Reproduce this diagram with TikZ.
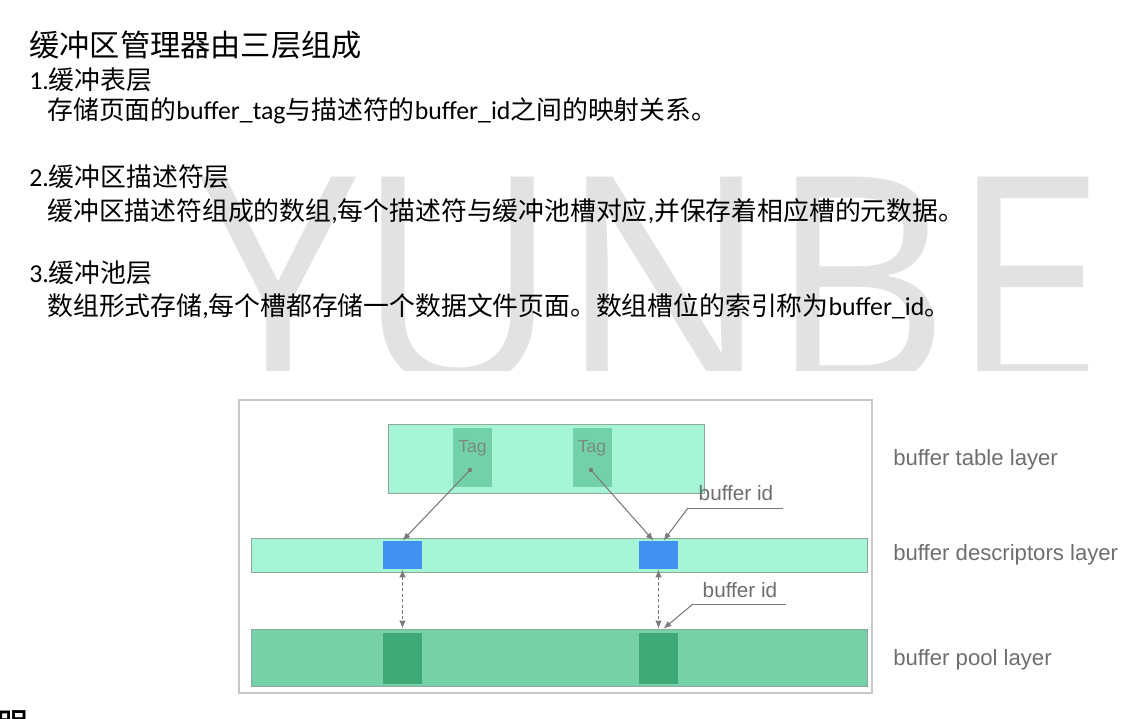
\documentclass[tikz,border=0pt]{standalone}
\usepackage{fontspec}
\setmainfont{Carlito}
\newfontfamily\cjk[AutoFakeBold=2]{Noto Sans CJK SC}
\newfontfamily\labelfont{Liberation Sans}
\newfontfamily\markfont{Open Sans}
\usetikzlibrary{calc,arrows.meta}
\newcommand{\zh}[1]{{\cjk #1}}

\definecolor{mint}{HTML}{A6F5D6}
\definecolor{tagfill}{HTML}{72D1A9}
\definecolor{descblue}{HTML}{4390F3}
\definecolor{poolfill}{HTML}{76D1A8}
\definecolor{slotfill}{HTML}{3FA877}
\definecolor{linegrey}{HTML}{8FA89C}
\definecolor{arrowgrey}{HTML}{7A7A7A}
\definecolor{textgrey}{HTML}{6E6E6E}
\definecolor{framegrey}{HTML}{C8C8C8}
\definecolor{markgrey}{HTML}{E2E2E2}

\tikzset{
	txt/.style={inner sep=0pt, anchor=west, font=\fontsize{14.7}{17}\selectfont},
	head/.style={inner sep=0pt, anchor=west, font=\fontsize{17.2}{20}\selectfont\cjk},
	layer/.style={draw=linegrey, line width=0.5pt, inner sep=0pt},
	slot/.style={inner sep=0pt, minimum width=0.78cm},
	tagbox/.style={slot, fill=tagfill, minimum height=1.18cm, text height=7.5pt, text depth=13.3pt, text=arrowgrey!80!tagfill, font=\labelfont\fontsize{10}{12}\selectfont},
	side/.style={inner sep=0pt, anchor=west, text=textgrey, font=\labelfont\fontsize{12.6}{15}\selectfont},
	idlabel/.style={inner sep=0pt, text=textgrey, font=\labelfont\fontsize{11.8}{14}\selectfont},
	link/.style={draw=arrowgrey, line width=0.6pt, -{Latex[length=4.5pt,width=3.6pt]}},
	pair/.style={draw=arrowgrey, line width=0.6pt, dash pattern=on 1.8pt off 1.4pt, {Latex[length=4.5pt,width=3.6pt]}-{Latex[length=4.5pt,width=3.6pt]}},
}

\begin{document}
\begin{tikzpicture}[x=0.02cm, y=-0.02cm]
		%%%%% START %%%%%
		\useasboundingbox (0,0) rectangle (1142,718);
		
		\begin{scope}
			\clip (0,0) rectangle (1142,370);
			\node[inner sep=0pt, anchor=base west, text=markgrey, xscale=0.95, font=\markfont\fontsize{167}{170}\selectfont] (mark) at (200,386) {YUNBE};
		\end{scope}
		
		\node[head] (title) at (29,45) {缓冲区管理器由三层组成};
		\node[txt] (one) at (29,80) {1.\zh{缓冲表层}};
		\node[txt] (oned) at (47,111) {\zh{存储页面的}buffer\_tag\zh{与描述符的}buffer\_id\zh{之间的映射关系。}};
		\node[txt] (two) at (29,177) {2.\zh{缓冲区描述符层}};
		\node[txt] (twod) at (47,211) {\zh{缓冲区描述符组成的数组},\zh{每个描述符与缓冲池槽对应},\zh{并保存着相应槽的元数据。}};
		\node[txt] (three) at (29,273) {3.\zh{缓冲池层}};
		\node[txt] (threed) at (47,306) {\zh{数组形式存储},\zh{每个槽都存储一个数据文件页面。数组槽位的索引称为}buffer\_id\zh{。}};
		
		\node[inner sep=0pt, anchor=north west, font=\fontsize{17}{20}\selectfont\cjk\bfseries] (tail) at (-3,710) {明};
		
		% frame
		\node[draw=framegrey, line width=1.2pt, fill=white, minimum width=12.66cm, minimum height=5.86cm] (frm) at (555.5,546.5) {};
		
		% buffer table
		\node[layer, fill=mint, minimum width=6.32cm, minimum height=1.38cm] (tbl) at (546,458.5) {};
		\node[tagbox] (tagA) at (472.5,457.5) {Tag};
		\node[tagbox] (tagB) at (592,457.5) {Tag};
		\coordinate (dotA) at (470,470);
		\coordinate (dotB) at (591,470);
		\fill[arrowgrey] (dotA) circle (2.2);
		\fill[arrowgrey] (dotB) circle (2.2);
		
		% descriptors
		\node[layer, fill=mint, minimum width=12.32cm, minimum height=0.68cm] (desc) at (559,555) {};
		\node[slot, fill=descblue, minimum height=0.56cm] (blueA) at (402.5,555) {};
		\node[slot, fill=descblue, minimum height=0.56cm] (blueB) at (658.5,555) {};
		
		% pool
		\node[layer, fill=poolfill, minimum width=12.32cm, minimum height=1.14cm] (pool) at (559,657.5) {};
		\node[slot, fill=slotfill, minimum height=1.02cm] (slotA) at (402.5,658.5) {};
		\node[slot, fill=slotfill, minimum height=1.02cm] (slotB) at (658.5,658.5) {};
		
		\draw[link] (dotA) -- (blueA.north);
		\draw[link] (dotB) -- ($(blueB.north)+(-5,0)$);
		\draw[pair] (blueA.south) -- (blueA.south |- pool.north);
		\draw[pair] (blueB.south) -- (blueB.south |- pool.north);
		
		\node[idlabel] (idA) at (736,493) {buffer id};
		\coordinate (ulA) at (688,508);
		\draw[arrowgrey, line width=0.5pt] (ulA) -- ++(95,0);
		\draw[link] (ulA) -- ($(blueB.north)+(5,0)$);
		
		\node[idlabel] (idB) at (740,590) {buffer id};
		\coordinate (ulB) at (693,604);
		\draw[arrowgrey, line width=0.5pt] (ulB) -- ++(93,0);
		\draw[link] (ulB) -- ($(slotB.north)+(5,-4)$);
		
		\node[side] (sideT) at (893,460) {buffer table layer};
		\node[side] (sideD) at (893,555) {buffer descriptors layer};
		\node[side] (sideP) at (893,660) {buffer pool layer};
		%%%%% END %%%%%
\end{tikzpicture}
\end{document}
